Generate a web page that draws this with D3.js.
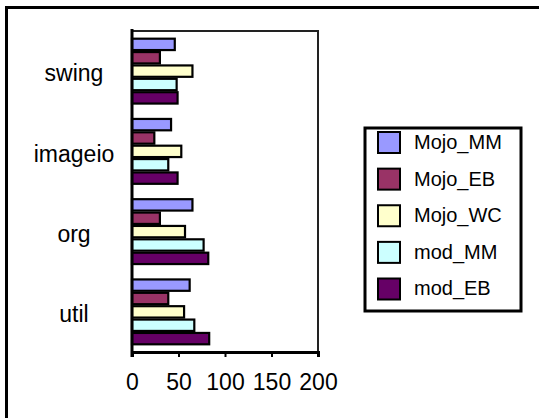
<!DOCTYPE html>
<html>
<head>
<meta charset="utf-8">
<script src="https://cdn.jsdelivr.net/npm/d3@7"></script>
<style>
  html, body { margin: 0; padding: 0; background: #fff; }
  svg { display: block; }
  text { font-family: "Liberation Sans", Arial, sans-serif; fill: #000; }
</style>
</head>
<body>
<svg id="chart" width="539" height="418"></svg>
<script>
// Packages, top to bottom
const categories = ["swing", "imageio", "org", "util"];
// Series, in legend order (drawn top to bottom inside each group)
const seriesNames = ["Mojo_MM", "Mojo_EB", "Mojo_WC", "mod_MM", "mod_EB"];
const seriesColors = ["#9999FF", "#993366", "#FFFFCC", "#CCFFFF", "#660066"];
const Mojo_MM = [46, 42, 65, 62];
const Mojo_EB = [30, 24, 30, 39];
const Mojo_WC = [65, 53, 57, 56];
const mod_MM  = [48, 39, 77, 67];
const mod_EB  = [49, 49, 82, 83];
const xTicks = [0, 50, 100, 150, 200];

const seriesValues = [Mojo_MM, Mojo_EB, Mojo_WC, mod_MM, mod_EB];

const svg = d3.select("#chart");

// Outer chart frame (runs past the right and bottom edges)
svg.append("rect")
  .attr("x", 6.5).attr("y", 7.5)
  .attr("width", 560).attr("height", 440)
  .attr("fill", "#fff").attr("stroke", "#000").attr("stroke-width", 3);

const plot = { left: 132, right: 318, top: 31, bottom: 352 };

const x = d3.scaleLinear().domain([0, 200]).range([plot.left, plot.right]);
const y = d3.scaleBand().domain(categories).range([plot.top, plot.bottom]).padding(0);
const bandH = y.bandwidth();
const yInner = d3.scaleBand().domain(seriesNames)
  .range([bandH / 12, bandH * 11 / 12]).padding(0);

// Plot area outline
svg.append("rect")
  .attr("x", plot.left).attr("y", plot.top)
  .attr("width", plot.right - plot.left).attr("height", plot.bottom - plot.top)
  .attr("fill", "none").attr("stroke", "#222").attr("stroke-width", 2);

// Bars
const groups = svg.append("g").selectAll("g")
  .data(categories)
  .join("g")
  .attr("transform", d => `translate(0,${y(d)})`);

groups.selectAll("rect")
  .data((c, ci) => seriesNames.map((s, si) => ({ s, si, v: seriesValues[si][ci] })))
  .join("rect")
  .attr("x", x(0))
  .attr("y", d => yInner(d.s) + 1)
  .attr("width", d => x(d.v) - x(0))
  .attr("height", yInner.bandwidth() - 2)
  .attr("fill", d => seriesColors[d.si])
  .attr("stroke", "#000").attr("stroke-width", 2.2);

// Value axis
const xAxis = d3.axisBottom(x).tickValues(xTicks).tickSize(5).tickPadding(17)
  .tickFormat(d3.format("d"));
const gx = svg.append("g")
  .attr("transform", `translate(0,${plot.bottom})`)
  .call(xAxis);
gx.select(".domain").attr("stroke", "#000").attr("stroke-width", 3);
gx.selectAll(".tick line").attr("stroke", "#000").attr("stroke-width", 2);
gx.selectAll(".tick text")
  .attr("font-size", 23)
  .style("font-family", "'Liberation Sans', Arial, sans-serif")
  .attr("fill", "#000");

// Category axis
const yAxis = d3.axisLeft(y).tickSize(0).tickPadding(0);
const gy = svg.append("g")
  .attr("transform", `translate(${plot.left},0)`)
  .call(yAxis);
gy.select(".domain").attr("stroke", "#000").attr("stroke-width", 3)
  .attr("d", `M0,${plot.top - 2}V${plot.bottom + 5}`);
gy.selectAll(".tick text")
  .attr("x", -58)
  .attr("dy", "0.45em")
  .attr("text-anchor", "middle")
  .attr("font-size", 23)
  .style("font-family", "'Liberation Sans', Arial, sans-serif")
  .attr("fill", "#000");

// Legend
const legend = svg.append("g");
legend.append("rect")
  .attr("x", 365).attr("y", 128)
  .attr("width", 156).attr("height", 183)
  .attr("fill", "#fff").attr("stroke", "#000").attr("stroke-width", 3);

const rowY = d3.scalePoint().domain(seriesNames).range([142.5, 289]);
const items = legend.selectAll("g.item")
  .data(seriesNames)
  .join("g")
  .attr("class", "item")
  .attr("transform", d => `translate(0,${rowY(d)})`);
items.append("rect")
  .attr("x", 378).attr("y", -10.5)
  .attr("width", 22).attr("height", 21)
  .attr("fill", (d, i) => seriesColors[i])
  .attr("stroke", "#000").attr("stroke-width", 2);
items.append("text")
  .attr("x", 414).attr("y", 0)
  .attr("dy", "0.32em")
  .attr("font-size", 20)
  .text(d => d);
</script>
</body>
</html>
